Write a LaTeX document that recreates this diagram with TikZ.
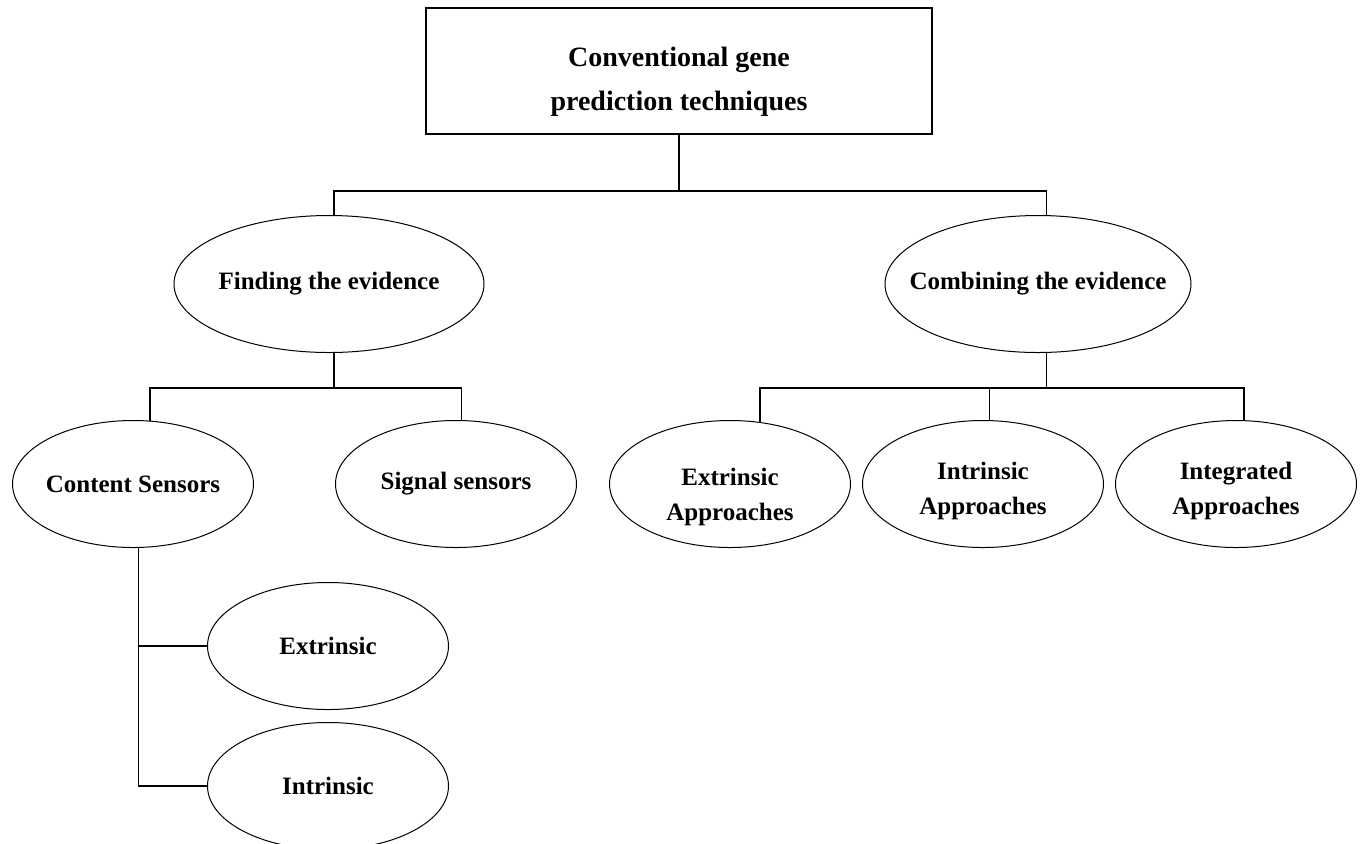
\documentclass[tikz,border=0pt]{standalone}
\usepackage{fontspec}
\setmainfont{Liberation Serif}
\usetikzlibrary{shapes,positioning}
\tikzstyle{block} = [rectangle, draw, line width=1pt, inner sep=0pt,
    minimum width=253pt, minimum height=63pt]
\tikzstyle{oval} = [ellipse, draw, line width=0.5pt, inner sep=0pt,
    minimum width=120.5pt, minimum height=63.5pt]
\tikzstyle{every label} = [font=\fontsize{12.5}{17.5}\selectfont\bfseries, align=center]
\tikzstyle{line} = [draw, line width=0.75pt]

\begin{document}
\begin{tikzpicture}[x=0.5pt, y=-0.5pt, node distance=5.5pt]
  \useasboundingbox (0,0) rectangle (1361,843);
  \node [block, label={[font=\fontsize{14}{22}\selectfont\bfseries, yshift=-5.5pt]center:Conventional gene\\prediction techniques}] (Gene) at (679,71) {};
  \node [oval, minimum width=155pt, minimum height=68.5pt, label={center:Finding the evidence}] (Find) at (329,284) {};
  \node [oval, minimum width=153pt, minimum height=68.5pt, label={center:Combining the evidence}] (Combine) at (1038,284) {};
  %
  \node [oval, label={center:Content Sensors}] (Content) at (133,484) {};
  \node [oval, right=40.5pt of Content, label={center:Signal sensors}] (Signal) {};
  \node [oval, label={center:Extrinsic}] (Extr) at (328,646) {};
  \node [oval, below=6pt of Extr, label={center:Intrinsic}] (Intr) {};
  %
  \node [oval, label={[yshift=-6.3pt]center:Extrinsic\\Approaches}] (ExtApp) at (730,484) {};
  \node [oval, right=of ExtApp, label={[yshift=-3.3pt]center:Intrinsic\\Approaches}] (IntApp) {};
  \node [oval, right=of IntApp, label={[yshift=-3.3pt]center:Integrated\\Approaches}] (IntegApp) {};
  %
  \path [line] (Gene.south) -- ++(0,56) -| (Find.86);
  \path [line] (Gene.south) -- ++(0,56) -| (Combine.83);
  %
  \path [line] (Find.274) -- ++(0,35) -| (Content.75);
  \path [line] (Find.274) -- ++(0,35) -| (Signal.85);
  %
  \path [line] (Combine.277) -- ++(0,35) -| (ExtApp.64);
  \path [line] (Combine.277) -- ++(0,35) -| (IntApp.84);
  \path [line] (Combine.277) -- ++(0,35) -| (IntegApp.83);
  %
  \path [line] (Content.275) |- (Extr.west);
  \path [line] (Content.275) |- (Intr.west);
\end{tikzpicture}
\end{document}
